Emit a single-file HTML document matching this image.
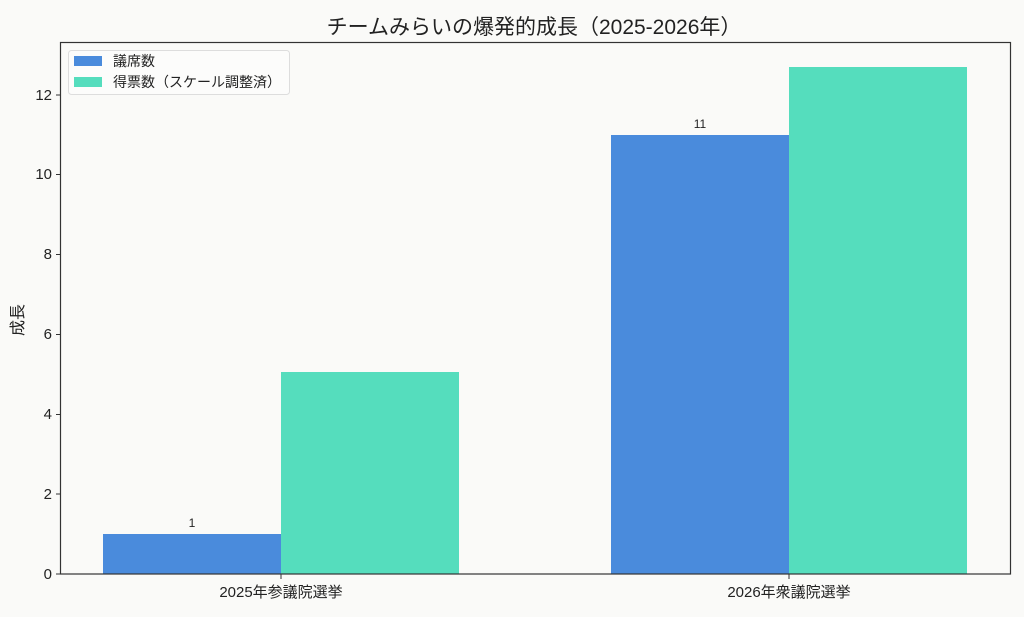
<!DOCTYPE html>
<html><head><meta charset="utf-8"><style>
body{margin:0;background:#fafaf8;}
svg{display:block;font-family:"Liberation Sans","Noto Sans CJK JP",sans-serif;}
</style></head><body>
<svg width="1024" height="617" viewBox="0 0 1024 617">
<rect width="1024" height="617" fill="#fafaf8"/>
<text x="534" y="34" font-size="21" text-anchor="middle" fill="#222">チームみらいの爆発的成長（2025-2026年）</text>
<rect x="103" y="534" width="178" height="40" fill="#4a8bdc"/>
<rect x="281" y="372" width="178" height="202" fill="#55ddbd"/>
<rect x="611" y="135" width="178" height="439" fill="#4a8bdc"/>
<rect x="789" y="67" width="178" height="507" fill="#55ddbd"/>
<text x="192" y="527" font-size="12" text-anchor="middle" fill="#222">1</text>
<text x="700" y="128" font-size="12" text-anchor="middle" fill="#222">11</text>
<rect x="60.5" y="42.5" width="950" height="531.5" fill="none" stroke="#333" stroke-width="1.2"/>
<g stroke="#333" stroke-width="1">
<line x1="56" y1="574" x2="60" y2="574"/><line x1="56" y1="494" x2="60" y2="494"/>
<line x1="56" y1="414.5" x2="60" y2="414.5"/><line x1="56" y1="334.5" x2="60" y2="334.5"/>
<line x1="56" y1="254.5" x2="60" y2="254.5"/><line x1="56" y1="174.5" x2="60" y2="174.5"/>
<line x1="56" y1="95" x2="60" y2="95"/>
<line x1="281" y1="574" x2="281" y2="579"/><line x1="789" y1="574" x2="789" y2="579"/>
</g>
<g font-size="15" fill="#222" text-anchor="end">
<text x="52" y="579">0</text><text x="52" y="499">2</text><text x="52" y="419">4</text>
<text x="52" y="339">6</text><text x="52" y="259">8</text><text x="52" y="179">10</text><text x="52" y="100">12</text>
</g>
<g font-size="15" fill="#222" text-anchor="middle">
<text x="281" y="597">2025年参議院選挙</text><text x="789" y="597">2026年衆議院選挙</text>
</g>
<text transform="translate(23,320) rotate(-90)" font-size="16" text-anchor="middle" fill="#222">成長</text>
<rect x="68.5" y="50.5" width="221" height="44" rx="3" fill="#fcfcfb" stroke="#ddd"/>
<rect x="74" y="56" width="28" height="10" fill="#4a8bdc"/>
<rect x="74" y="77" width="28" height="10" fill="#55ddbd"/>
<text x="113" y="66" font-size="14" fill="#222">議席数</text>
<text x="113" y="87" font-size="14" fill="#222">得票数（スケール調整済）</text>
</svg>
</body></html>
